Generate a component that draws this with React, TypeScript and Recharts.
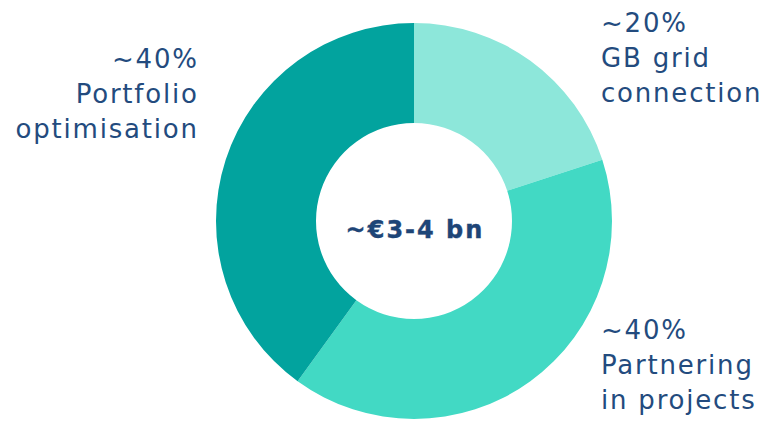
import { PieChart, Pie, Cell } from "recharts"

const segments = ["GB grid connection", "Partnering in projects", "Portfolio optimisation"]
const shares = [20, 40, 40]
const shareLabels = ["~20%", "~40%", "~40%"]
const labelLines = [["GB grid", "connection"], ["Partnering", "in projects"], ["Portfolio", "optimisation"]]
const totalLabel = "~€3-4 bn"

const colors = ["#8de7da", "#42d9c4", "#02a39e"]
const textColor = "#234b7e"
const font = "'DejaVu Sans', sans-serif"
const spacing = 1.8

// where each label block sits (x, first baseline, anchor)
const labelPos = [
  { x: 601, y: 32, anchor: "start" },
  { x: 601, y: 339, anchor: "start" },
  { x: 197 + spacing, y: 68, anchor: "end" },
]

const data = segments.map((name, i) => ({ name, value: shares[i] }))

function renderLabel(props: any) {
  const i = props.index
  const p = labelPos[i]
  const lines = [shareLabels[i], ...labelLines[i]]
  return (
    <text
      key={`lbl-${i}`}
      x={p.x}
      y={p.y}
      textAnchor={p.anchor}
      fill={textColor}
      fontSize={26}
      letterSpacing={spacing}
      fontFamily={font}
    >
      {lines.map((l, j) => (
        <tspan key={j} x={p.x} dy={j === 0 ? 0 : 35.2}>
          {l}
        </tspan>
      ))}
    </text>
  )
}

export default function App() {
  return (
    <div style={{ position: "absolute", left: 0, top: 0, width: 768, height: 422, background: "#fff" }}>
      <PieChart width={768} height={422} margin={{ top: 0, right: 0, bottom: 0, left: 0 }}>
        <Pie
          data={data}
          dataKey="value"
          nameKey="name"
          cx={414}
          cy={221}
          innerRadius={98}
          outerRadius={198}
          startAngle={90}
          endAngle={-270}
          stroke="none"
          label={renderLabel}
          labelLine={false}
          isAnimationActive={false}
        >
          {data.map((d, i) => (
            <Cell key={d.name} fill={colors[i]} />
          ))}
        </Pie>
        <text
          x={415}
          y={238}
          textAnchor="middle"
          fill="#1e4577"
          stroke="#1e4577"
          strokeWidth={0.4}
          fontFamily={font}
          fontWeight={700}
          fontSize={24}
          letterSpacing={2}
        >
          {totalLabel}
        </text>
      </PieChart>
    </div>
  )
}
